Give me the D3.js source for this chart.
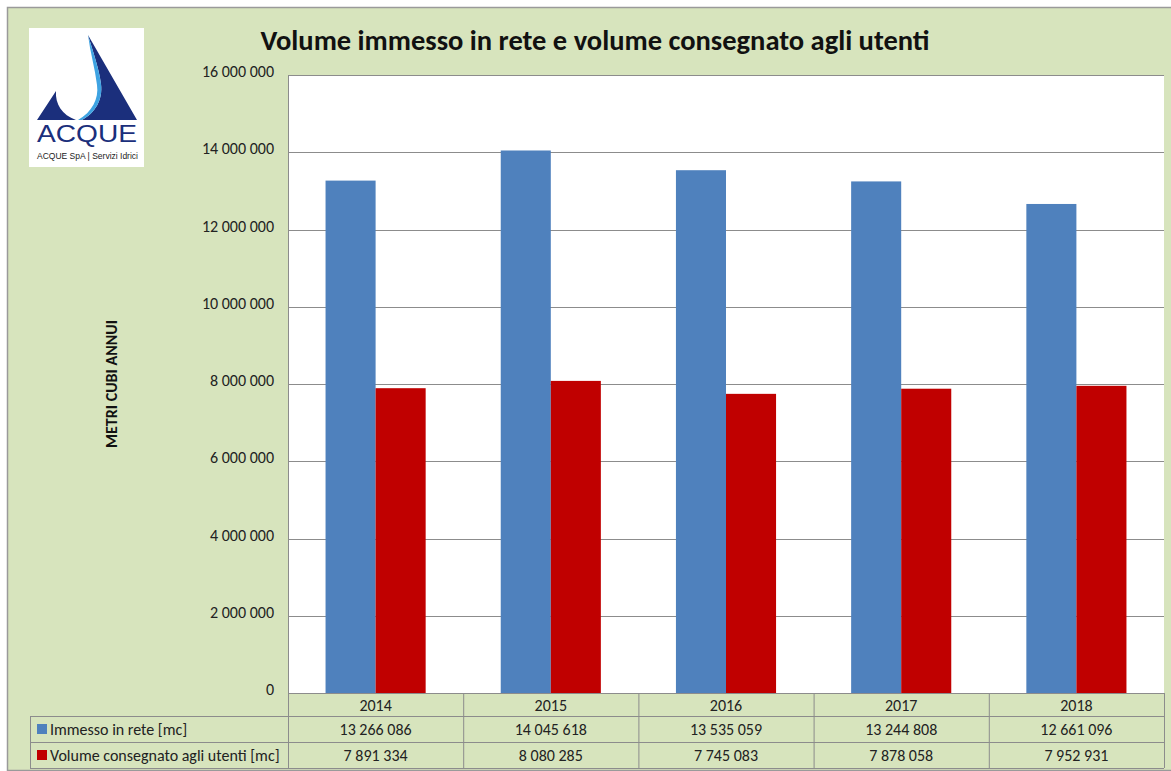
<!DOCTYPE html>
<html><head><meta charset="utf-8">
<script src="https://cdn.jsdelivr.net/npm/d3@7"></script>
<style>body{margin:0;background:#fff}svg{display:block}</style>
</head><body>
<script>
const years = ["2014","2015","2016","2017","2018"];
const immesso = [13266086,14045618,13535059,13244808,12661096];
const consegnato = [7891334,8080285,7745083,7878058,7952931];
const seriesNames = ["Immesso in rete [mc]","Volume consegnato agli utenti [mc]"];
const yTicks = [0,2000000,4000000,6000000,8000000,10000000,12000000,14000000,16000000];
const title = "Volume immesso in rete e volume consegnato agli utenti";
const yLabel = "METRI CUBI ANNUI";

const W=1171,H=771;
const bg="#d7e4bd", blue="#4f81bd", red="#c00000", grid="#8c8c8c";
const font="Calibri, Carlito, 'Open Sans', sans-serif";
const fs=16;
const svg=d3.select("body").append("svg").attr("width",W).attr("height",H);
svg.append("rect").attr("width",W).attr("height",H).attr("fill","#fff");
svg.append("rect").attr("x",7.5).attr("y",7.5).attr("width",W).attr("height",H-8)
  .attr("fill",bg).attr("stroke","#9a9a9a").attr("stroke-width",1.5);

const fmtN = v => d3.format(",")(v).replace(/,/g," ");

const L=288,R=1164,T=75,B=693;
const x=d3.scaleBand().domain(years).range([L,R]).paddingInner(0).paddingOuter(0);
const x1=d3.scaleBand().domain([0,1]).range([0,x.bandwidth()]).paddingOuter(0.75).paddingInner(0);
const y=d3.scaleLinear().domain([0,16000000]).range([B,T]);

svg.append("rect").attr("x",L).attr("y",T).attr("width",R-L).attr("height",B-T).attr("fill","#fff");
svg.append("g").selectAll("line").data(yTicks).join("line")
  .attr("x1",L).attr("x2",R).attr("y1",d=>Math.round(y(d))+0.5).attr("y2",d=>Math.round(y(d))+0.5)
  .attr("stroke",grid).attr("stroke-width",1);
svg.append("line").attr("x1",L+0.5).attr("x2",L+0.5).attr("y1",T).attr("y2",B).attr("stroke",grid);

const ya=svg.append("g").attr("transform",`translate(${L-14},0)`)
  .call(d3.axisLeft(y).tickValues(yTicks).tickFormat(fmtN).tickSize(0).tickPadding(0));
ya.select(".domain").remove();
ya.selectAll("text").attr("font-family",font).attr("font-size",fs).attr("fill","#222").attr("dy","0.1em");

const data=[immesso,consegnato];
const colors=[blue,red];
data.forEach((s,i)=>{
  svg.append("g").selectAll("rect").data(s).join("rect")
    .attr("x",(d,j)=>x(years[j])+x1(i)).attr("width",x1.bandwidth())
    .attr("y",d=>y(d)).attr("height",d=>B-y(d)).attr("fill",colors[i]);
});

const tL=30, rows=[B,716,742,768];
const tg=svg.append("g");
const lineC="#8c8c8c";
[1,2,3].forEach(k=>tg.append("line").attr("x1",tL).attr("x2",R).attr("y1",rows[k]+0.5).attr("y2",rows[k]+0.5).attr("stroke",lineC));
tg.append("line").attr("x1",tL+0.5).attr("x2",tL+0.5).attr("y1",rows[1]).attr("y2",rows[3]).attr("stroke",lineC);
years.forEach(yr=>{
  tg.append("line").attr("x1",x(yr)+0.5).attr("x2",x(yr)+0.5).attr("y1",B).attr("y2",rows[3]).attr("stroke",lineC);
});
tg.append("line").attr("x1",R+0.5).attr("x2",R+0.5).attr("y1",B).attr("y2",rows[3]).attr("stroke",lineC);
tg.append("line").attr("x1",L).attr("x2",R).attr("y1",B+0.5).attr("y2",B+0.5).attr("stroke",lineC);

tg.selectAll("text.yr").data(years).join("text").attr("class","yr")
  .attr("x",d=>x(d)+x.bandwidth()/2).attr("y",(rows[0]+rows[1])/2+6)
  .attr("text-anchor","middle").attr("font-family",font).attr("font-size",fs).attr("fill","#222").text(d=>d);
data.forEach((s,i)=>{
  const cy=(rows[i+1]+rows[i+2])/2;
  tg.selectAll("text.v"+i).data(s).join("text").attr("class","v"+i)
    .attr("x",(d,j)=>x(years[j])+x.bandwidth()/2).attr("y",cy+6)
    .attr("text-anchor","middle").attr("font-family",font).attr("font-size",fs).attr("fill","#222").text(d=>fmtN(d));
  tg.append("rect").attr("x",37).attr("y",cy-5).attr("width",10).attr("height",10).attr("fill",colors[i]);
  tg.append("text").attr("x",50).attr("y",cy+6).attr("font-family",font).attr("font-size",fs).attr("fill","#222").text(seriesNames[i]);
});

svg.append("text").attr("x",595).attr("y",50).attr("text-anchor","middle")
  .attr("font-family",font).attr("font-weight","bold").attr("font-size",28.5).attr("fill","#111").text(title);
svg.append("text").attr("transform",`translate(117,384) rotate(-90)`).attr("text-anchor","middle")
  .attr("font-family",font).attr("font-weight","bold").attr("font-size",16).attr("fill","#111").text(yLabel);

// logo
const navy="#1b2f7c";
const lg=svg.append("g");
lg.append("rect").attr("x",29).attr("y",28).attr("width",115).attr("height",139).attr("fill","#fff");
lg.append("path").attr("d","M88,35 L137,120 L82,120 C95,113 103,100 101,84 C99,68 93,52 88,35 Z").attr("fill",navy);
lg.append("path").attr("d","M88,35 C93,52 99,68 101,84 C103,100 95,113 82,120 L78,120 C92,112 99,99 97,85 C95,68 90,52 88,35 Z").attr("fill","#3ea3e2");
lg.append("path").attr("d","M37,120 L56,91 C55,104 62,115 76,120 Z").attr("fill",navy);
lg.append("text").attr("x",37).attr("y",142).attr("font-family","'Liberation Sans', Arial, sans-serif")
  .attr("font-size",24).attr("textLength",100).attr("lengthAdjust","spacingAndGlyphs").attr("fill",navy).text("ACQUE");
lg.append("text").attr("x",37).attr("y",159).attr("font-family","'Liberation Sans Narrow', 'Liberation Sans', sans-serif")
  .attr("font-size",8.8).attr("textLength",101).attr("lengthAdjust","spacingAndGlyphs").attr("fill","#222").text("ACQUE SpA | Servizi Idrici");
</script>
</body></html>
